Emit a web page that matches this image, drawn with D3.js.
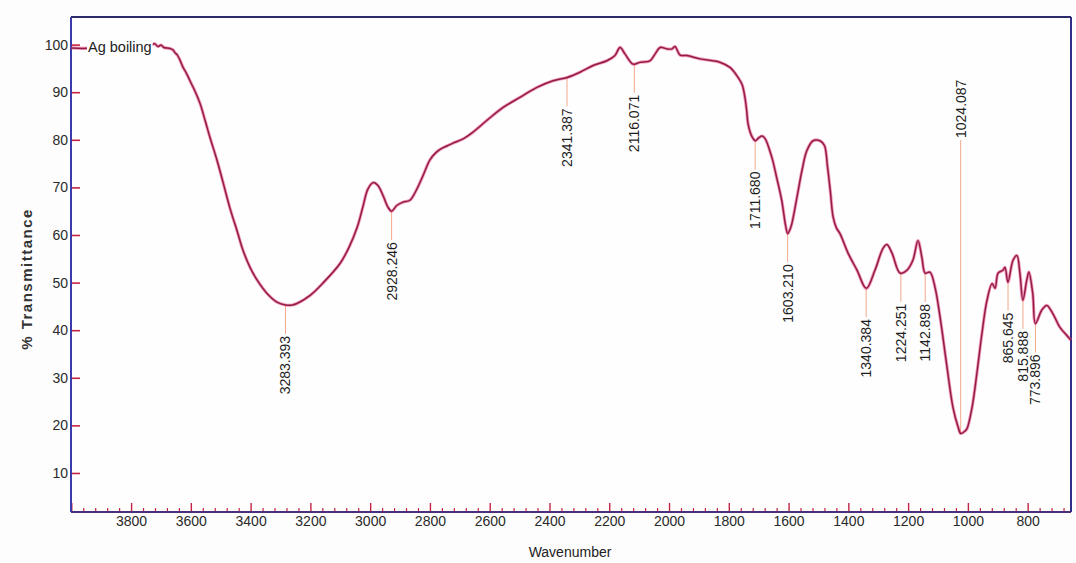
<!DOCTYPE html>
<html>
<head>
<meta charset="utf-8">
<script src="https://cdn.jsdelivr.net/npm/d3@7"></script>
<style>
  html, body { margin: 0; padding: 0; background: #fdfdfd; }
  svg { display: block; font-family: "Liberation Sans", Arial, sans-serif; }
</style>
</head>
<body>
<svg id="chart" width="1076" height="563"></svg>
<script>
// FTIR spectrum of the "Ag boiling" sample
const seriesName = "Ag boiling";

// wavenumber (cm-1), descending
const wavenumbers = [
  4000, 3960, 3920, 3880, 3840, 3800, 3770, 3750, 3736, 3722, 3710, 3700, 3690, 3670, 3660,
  3653, 3645, 3636, 3626, 3615, 3603, 3586, 3569, 3552, 3536, 3512, 3492, 3469, 3445, 3425,
  3402, 3378, 3345, 3312, 3283, 3260, 3245, 3201, 3158, 3101, 3070, 3044, 3024, 3008, 2990,
  2974, 2957, 2940, 2928, 2911, 2890, 2867, 2845, 2823, 2800, 2780, 2766, 2740, 2723, 2689,
  2656, 2609, 2555, 2499, 2442, 2388, 2341, 2298, 2254, 2208, 2181, 2164, 2147, 2120, 2097,
  2064, 2047, 2030, 2007, 1990, 1980, 1963, 1940, 1896, 1853, 1830, 1796, 1769, 1755, 1746,
  1740, 1736, 1728, 1719, 1711, 1700, 1689, 1679, 1656, 1640, 1623, 1610, 1603, 1595, 1589,
  1572, 1555, 1539, 1518, 1495, 1480, 1470, 1460, 1451, 1440, 1428, 1401, 1371, 1340, 1311,
  1284, 1271, 1254, 1227, 1204, 1184, 1167, 1154, 1143, 1127, 1110, 1093, 1070, 1050, 1033,
  1024, 1010, 1003, 986, 970, 953, 936, 919, 909, 899, 883, 876, 866, 849, 836,
  826, 816, 803, 796, 783, 774, 753, 736, 716, 692, 669, 655
];

// % transmittance at each wavenumber
const transmittance = [
  99.3, 99.2, 99.4, 99.6, 99.5, 99.7, 99.9, 100.1, 99.8, 100.2, 99.6, 99.9, 99.4, 99.2, 98.9,
  98.3, 97.8, 96.7, 95.2, 94.0, 92.4, 90.2, 87.6, 84.0, 80.5, 75.6, 71.0, 65.6, 60.8, 56.7,
  53.2, 50.5, 47.7, 45.9, 45.3, 45.3, 45.6, 47.3, 49.9, 54.0, 57.5, 61.5, 66.0, 69.6, 71.0,
  70.4, 68.3, 65.8, 65.0, 66.2, 66.9, 67.3, 69.5, 72.5, 75.8, 77.3, 78.0, 78.8, 79.3, 80.2,
  81.6, 84.1, 86.8, 88.9, 91.0, 92.4, 93.1, 94.2, 95.6, 96.6, 97.7, 99.4, 98.0, 95.9, 96.3,
  96.6, 98.0, 99.4, 99.1, 99.1, 99.6, 97.8, 97.7, 97.0, 96.6, 96.3, 95.2, 93.1, 91.5, 88.9,
  86.0, 83.5, 81.5, 80.3, 79.8, 80.4, 80.8, 80.3, 76.3, 72.1, 67.3, 62.0, 60.3, 61.2, 62.4,
  67.9, 73.6, 77.7, 79.8, 79.8, 78.8, 74.5, 69.0, 63.8, 61.5, 60.3, 56.2, 52.6, 48.8, 52.6,
  57.2, 58.0, 56.2, 52.0, 52.6, 54.7, 58.8, 55.3, 52.0, 52.2, 49.0, 42.7, 32.3, 23.8, 19.7,
  18.3, 18.8, 19.3, 23.8, 30.9, 39.3, 46.3, 49.8, 48.8, 52.0, 52.6, 53.2, 50.1, 54.7, 55.7,
  52.0, 46.3, 50.5, 52.2, 47.7, 41.4, 44.2, 45.2, 43.5, 40.6, 38.9, 37.9
];

// annotated band positions (cm-1)
const peakWavenumbers = [3283.393, 2928.246, 2341.387, 2116.071, 1711.680, 1603.210,
  1340.384, 1224.251, 1142.898, 1024.087, 865.645, 815.888, 773.896];

// axis ticks
const xMajorTicks = [3800, 3600, 3400, 3200, 3000, 2800, 2600, 2400, 2200, 2000, 1800, 1600, 1400, 1200, 1000, 800];
const yTicks = [10, 20, 30, 40, 50, 60, 70, 80, 90, 100];

const xTitle = "Wavenumber";
const yTitle = "% Transmittance";

// ---- layout ----
const plot = { left: 71, top: 17, right: 1071, bottom: 512 };

const svg = d3.select("#chart");

const x = d3.scaleLinear().domain([4001, 655]).range([plot.left, plot.right]);
const y = d3.scaleLinear().domain([1.8, 105.8]).range([plot.bottom, plot.top]);

const data = wavenumbers.map((w, i) => ({ w, t: transmittance[i] }));

// plot background
svg.append("rect")
  .attr("x", plot.left).attr("y", plot.top)
  .attr("width", plot.right - plot.left).attr("height", plot.bottom - plot.top)
  .attr("fill", "#fefefe");

// minor x ticks every 40 cm-1
const xMinorTicks = d3.range(4000, 655, -40).filter(v => v % 200 !== 0);

const tickColor = "#c42343";

const xMinorAxis = d3.axisBottom(x).tickValues(xMinorTicks).tickSizeInner(-4).tickSizeOuter(0).tickFormat("");
const gxMinor = svg.append("g").attr("transform", `translate(0,${plot.bottom})`).call(xMinorAxis);
gxMinor.select(".domain").remove();
gxMinor.selectAll("line").attr("stroke", tickColor).attr("stroke-width", 1.2);

const xAxis = d3.axisBottom(x).tickValues([4000].concat(xMajorTicks)).tickSizeInner(-9).tickSizeOuter(0)
  .tickPadding(4.5).tickFormat(d => d === 4000 ? "" : d3.format("d")(d));
const gx = svg.append("g").attr("transform", `translate(0,${plot.bottom})`).call(xAxis);
gx.select(".domain").remove();
gx.selectAll("line").attr("stroke", tickColor).attr("stroke-width", 1.4);
gx.selectAll("text").attr("font-size", 14).attr("fill", "#2a2a2a")
  .attr("font-family", "'Liberation Sans', Arial, sans-serif");

const yAxis = d3.axisLeft(y).tickValues(yTicks).tickSizeInner(-9).tickSizeOuter(0).tickPadding(3);
const gy = svg.append("g").attr("transform", `translate(${plot.left},0)`).call(yAxis);
gy.select(".domain").remove();
gy.selectAll("line").attr("stroke", tickColor).attr("stroke-width", 1.6);
gy.selectAll("text").attr("font-size", 14).attr("fill", "#2a2a2a")
  .attr("font-family", "'Liberation Sans', Arial, sans-serif");

// frame
svg.append("line").attr("x1", plot.left).attr("x2", plot.right).attr("y1", plot.top).attr("y2", plot.top)
  .attr("stroke", "#2c2c6c").attr("stroke-width", 2);
svg.append("line").attr("x1", plot.right).attr("x2", plot.right).attr("y1", plot.top).attr("y2", plot.bottom)
  .attr("stroke", "#2e2e86").attr("stroke-width", 2);
svg.append("line").attr("x1", plot.left).attr("x2", plot.right).attr("y1", plot.bottom).attr("y2", plot.bottom)
  .attr("stroke", "#4b2f78").attr("stroke-width", 2);
svg.append("line").attr("x1", plot.left).attr("x2", plot.left).attr("y1", plot.top).attr("y2", plot.bottom)
  .attr("stroke", "#3a3aa8").attr("stroke-width", 2);

// transmittance lookup along the spectrum
function tAt(w) {
  for (let i = 0; i < data.length - 1; i++) {
    const a = data[i], b = data[i + 1];
    if (w <= a.w && w >= b.w) {
      return a.t + (b.t - a.t) * (a.w - w) / (a.w - b.w);
    }
  }
  return data[data.length - 1].t;
}

// band marker lines
const gap = 29;
const topLabelBottom = 138;
const peaks = peakWavenumbers.map(w => {
  const cy = y(tAt(w));
  const above = cy > 400;
  return { w, cy, above, text: w.toFixed(3) };
});

const gPeaks = svg.append("g");
gPeaks.selectAll("line").data(peaks).join("line")
  .attr("x1", d => x(d.w)).attr("x2", d => x(d.w))
  .attr("y1", d => d.above ? topLabelBottom + 2 : d.cy)
  .attr("y2", d => d.above ? d.cy : d.cy + gap)
  .attr("stroke", "#f2a888").attr("stroke-width", 1);

// spectrum
const line = d3.line().x(d => x(d.w)).y(d => y(d.t)).curve(d3.curveCatmullRom.alpha(0.5));
svg.append("path").datum(data).attr("d", line)
  .attr("fill", "none").attr("stroke", "#e5467f").attr("stroke-opacity", 0.55)
  .attr("stroke-width", 3.2).attr("stroke-linejoin", "round");
svg.append("path").datum(data).attr("d", line)
  .attr("fill", "none").attr("stroke", "#921c47")
  .attr("stroke-width", 1.5).attr("stroke-linejoin", "round");

// band labels
gPeaks.selectAll("text").data(peaks).join("text")
  .attr("transform", d => d.above
    ? `translate(${x(d.w)},${topLabelBottom}) rotate(-90)`
    : `translate(${x(d.w)},${d.cy + gap + 2}) rotate(-90)`)
  .attr("text-anchor", d => d.above ? "start" : "end")
  .attr("dominant-baseline", "central")
  .attr("font-size", 14)
  .attr("fill", "#1e1e1e")
  .text(d => d.text);

// series label, sitting on the trace
const legend = svg.append("g").attr("transform", "translate(87,47)");
const legendText = legend.append("text")
  .attr("x", 1).attr("dominant-baseline", "central")
  .attr("font-size", 14.5).attr("fill", "#222")
  .text(seriesName);
const bb = legendText.node().getBBox();
legend.insert("rect", "text")
  .attr("x", bb.x - 1).attr("y", bb.y + 1).attr("width", bb.width + 2).attr("height", bb.height - 2)
  .attr("fill", "#fefefe");

// axis titles
svg.append("text")
  .attr("x", 570).attr("y", 557)
  .attr("text-anchor", "middle").attr("font-size", 14).attr("fill", "#222")
  .text(xTitle);

svg.append("text")
  .attr("transform", "translate(26,279) rotate(-90)")
  .attr("text-anchor", "middle").attr("dominant-baseline", "central")
  .attr("font-size", 15).attr("font-weight", "bold").attr("letter-spacing", 1.5)
  .attr("fill", "#333")
  .text(yTitle);
</script>
</body>
</html>
